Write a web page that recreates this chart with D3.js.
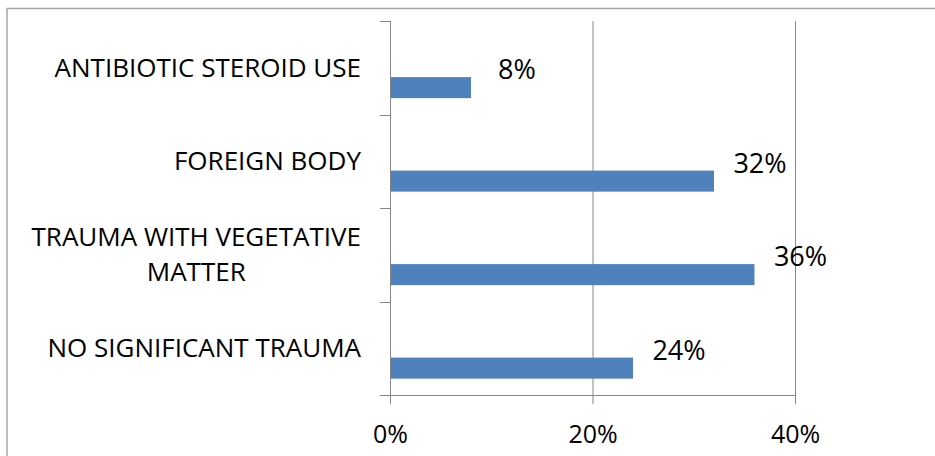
<!DOCTYPE html>
<html lang="en">
<head>
<meta charset="UTF-8">
<script src="https://d3js.org/d3.v7.min.js"></script>
<title>chart</title>
<style>
  body { margin: 0; background: #fff; }
  text { font-family: "Open Sans", sans-serif; fill: #000; }
</style>
</head>
<body>
<div id="chart"></div>
<script>
  var categories = ["ANTIBIOTIC STEROID USE", "FOREIGN BODY", "TRAUMA WITH VEGETATIVE\nMATTER", "NO SIGNIFICANT TRAUMA"];
  var values = [0.08, 0.32, 0.36, 0.24];
  var xTicks = [0, 0.2, 0.4];

  var W = 935, H = 456;
  var svg = d3.select("#chart").append("svg").attr("width", W).attr("height", H);

  // outer chart border (runs off the right and bottom)
  svg.append("rect")
    .attr("x", 7).attr("y", 8.5).attr("width", 1000).attr("height", 1000)
    .attr("fill", "none").attr("stroke", "#a6a6a6").attr("stroke-width", 1.5);

  var x = d3.scaleLinear().domain([0, 0.4]).range([390, 795]);
  var y = d3.scaleBand().domain(categories).range([21, 395]);
  var bw = y.bandwidth();

  // gridlines
  svg.append("g").selectAll("line").data(xTicks.slice(1)).enter().append("line")
    .attr("x1", d => x(d) + 0.5).attr("x2", d => x(d) + 0.5)
    .attr("y1", 21).attr("y2", 395)
    .attr("stroke", "#868686").attr("stroke-width", 1);

  // bars
  svg.append("g").selectAll("rect").data(values).enter().append("rect")
    .attr("x", x(0))
    .attr("y", (d, i) => y(categories[i]) + bw * 0.6)
    .attr("width", d => x(d) - x(0))
    .attr("height", bw * 0.225)
    .attr("fill", "#4f81bd");

  // value labels
  svg.append("g").selectAll("text").data(values).enter().append("text")
    .attr("x", d => x(d) + 46)
    .attr("y", (d, i) => y(categories[i]) + bw * 0.6 + 2)
    .attr("text-anchor", "middle")
    .style("font-size", "27px")
    .text(d => d3.format(".0%")(d));

  // bottom axis
  var xAxis = svg.append("g").attr("transform", "translate(0,395)")
    .call(d3.axisBottom(x).tickValues(xTicks).tickFormat(d3.format(".0%")).tickSizeInner(9).tickSizeOuter(0).tickPadding(21));
  xAxis.select(".domain").attr("stroke", "#868686");
  xAxis.selectAll(".tick line").attr("stroke", "#868686");
  xAxis.selectAll(".tick text").style("font-size", "25px").attr("fill", "#000")
    .attr("font-family", null);

  // left axis line + ticks at band edges
  var g = svg.append("g");
  g.append("line").attr("x1", 390.5).attr("x2", 390.5).attr("y1", 21).attr("y2", 395)
    .attr("stroke", "#868686");
  var edges = categories.map(c => y(c)).concat([y.range()[1]]);
  g.selectAll("line.tk").data(edges).enter().append("line").attr("class", "tk")
    .attr("x1", 380).attr("x2", 390).attr("y1", d => Math.round(d) + 0.5).attr("y2", d => Math.round(d) + 0.5)
    .attr("stroke", "#868686");

  // category labels: block right-aligned, lines centred within the block
  var lineH = 35;
  categories.forEach(function(c) {
    var lines = c.split("\n");
    var grp = svg.append("g");
    var texts = lines.map(function(l, i) {
      return grp.append("text").style("font-size", "26px").text(l)
        .attr("y", y(c) + bw / 2 + 9 + (i - (lines.length - 1) / 2) * lineH);
    });
    var maxW = d3.max(texts, t => t.node().getComputedTextLength());
    texts.forEach(t => t.attr("x", 361 - maxW / 2).attr("text-anchor", "middle"));
  });
</script>
</body>
</html>
